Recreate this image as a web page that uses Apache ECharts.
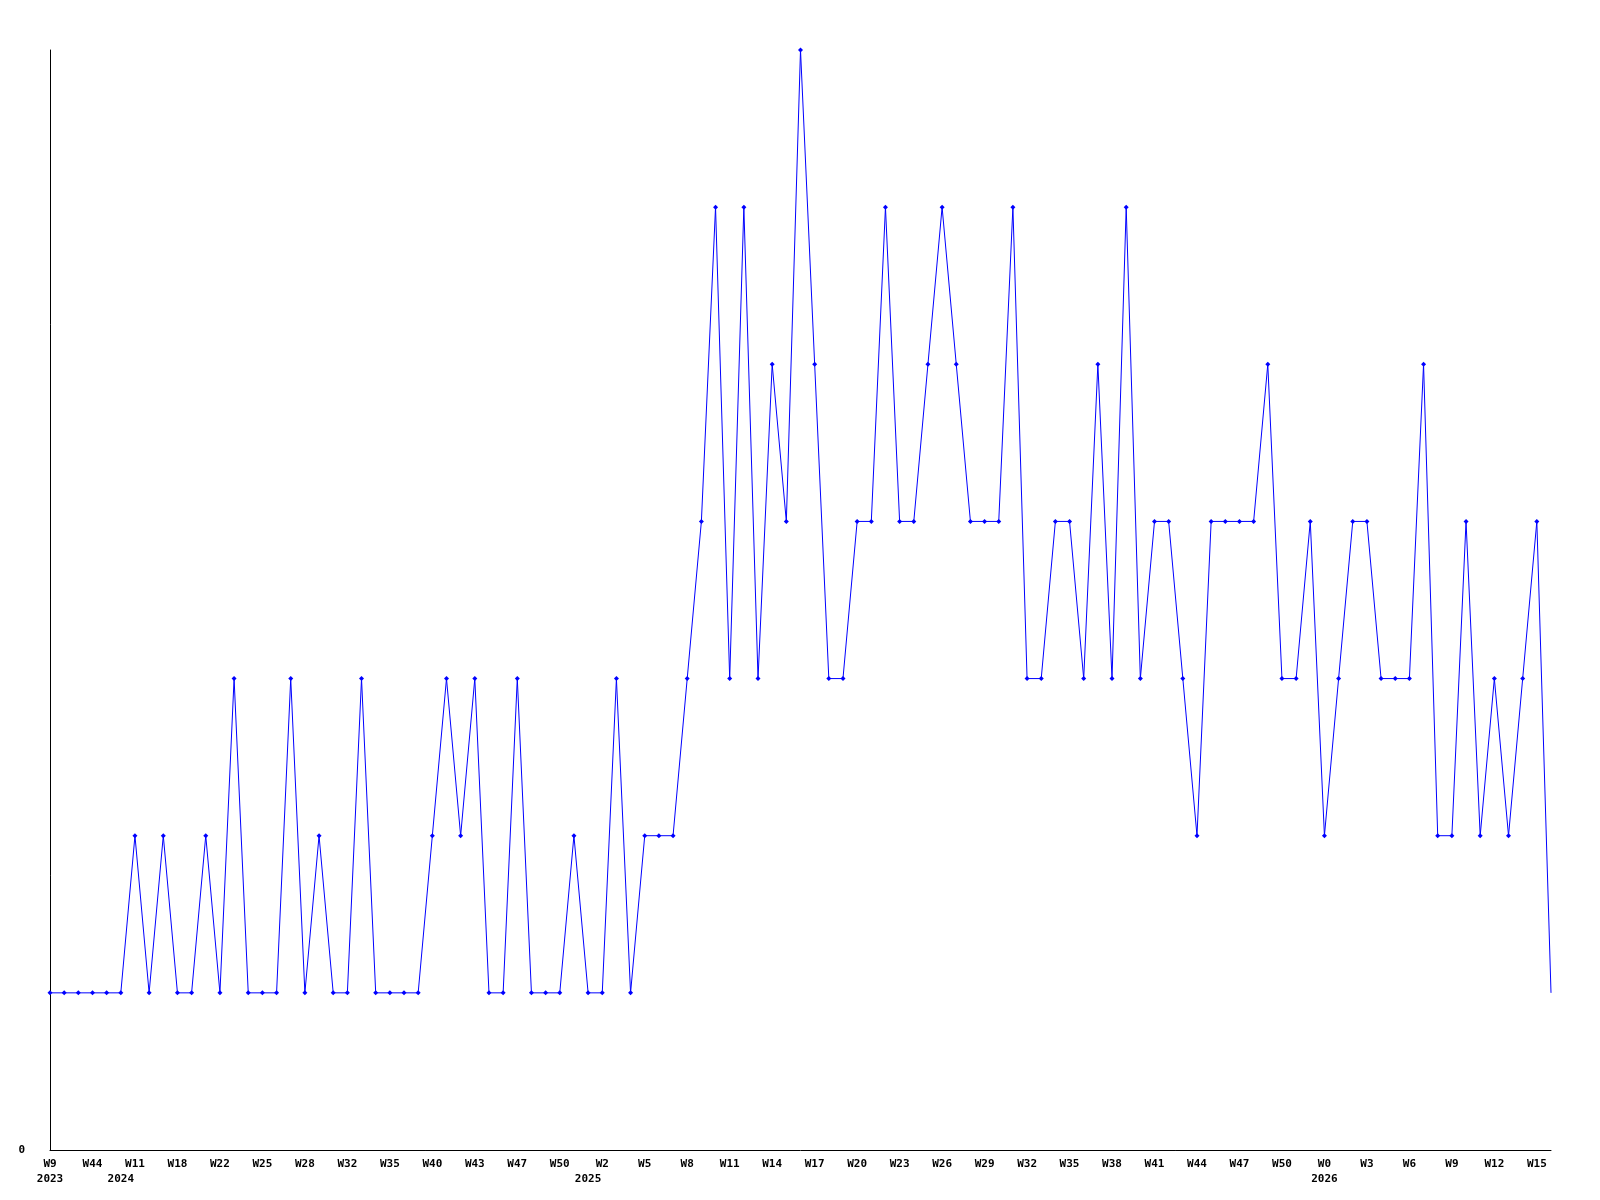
<!DOCTYPE html>
<html>
<head>
<meta charset="utf-8">
<script src="https://cdn.jsdelivr.net/npm/echarts@6/dist/echarts.min.js"></script>
<style>
html,body{margin:0;padding:0;background:#fff;}
#chart{width:1600px;height:1200px;}
</style>
</head>
<body>
<div id="chart"></div>
<script>
// Week labels (one per data point)
const weeks = [
  'W9','W38','W41','W44','W48',
  'W1','W11','W13','W16','W18','W19','W21','W22','W23','W24','W25','W26','W27','W28','W30','W31','W32','W33','W34','W35','W37','W38','W40','W41','W42','W43','W45','W46','W47','W48','W49','W50','W51',
  'W1','W2','W3','W4','W5','W6','W7','W8','W9','W10','W11','W12','W13','W14','W15','W16','W17','W18','W19','W20','W21','W22','W23','W24','W25','W26','W27','W28','W29','W30','W31','W32','W33','W34','W35','W36','W37','W38','W39','W40','W41','W42','W43','W44','W45','W46','W47','W48','W49','W50','W51','W52',
  'W0','W1','W2','W3','W4','W5','W6','W7','W8','W9','W10','W11','W12','W13','W14','W15','W16'
];
// Year of each data point
const years = [
  2023,2023,2023,2023,2023,
  2024,2024,2024,2024,2024,2024,2024,2024,2024,2024,2024,2024,2024,2024,2024,2024,2024,2024,2024,2024,2024,2024,2024,2024,2024,2024,2024,2024,2024,2024,2024,2024,2024,
  2025,2025,2025,2025,2025,2025,2025,2025,2025,2025,2025,2025,2025,2025,2025,2025,2025,2025,2025,2025,2025,2025,2025,2025,2025,2025,2025,2025,2025,2025,2025,2025,2025,2025,2025,2025,2025,2025,2025,2025,2025,2025,2025,2025,2025,2025,2025,2025,2025,2025,2025,2025,
  2026,2026,2026,2026,2026,2026,2026,2026,2026,2026,2026,2026,2026,2026,2026,2026,2026
];
// Values per week
const values = [
  1,1,1,1,1,1,2,1,2,1,1,2,1,3,1,1,1,3,1,2,
  1,1,3,1,1,1,1,2,3,2,3,1,1,3,1,1,1,2,1,1,
  3,1,2,2,2,3,4,6,3,6,3,5,4,7,5,3,3,4,4,6,
  4,4,5,6,5,4,4,4,6,3,3,4,4,3,5,3,6,3,4,4,
  3,2,4,4,4,4,5,3,3,4,2,3,4,4,3,3,3,5,2,2,
  4,2,3,2,3,4,1
];
const yMin = 0, yMax = 7;

const font = '"DejaVu Sans Mono", "Liberation Mono", monospace';
const seriesData = values.map((v, i) => i === values.length - 1 ? {value: v, symbol: 'none'} : v);

const chart = echarts.init(document.getElementById('chart'), null, {renderer: 'canvas'});
chart.setOption({
  animation: false,
  backgroundColor: '#ffffff',
  grid: {left: 50, right: 49, top: 50, bottom: 50, containLabel: false},
  xAxis: [{
    type: 'category',
    data: weeks,
    boundaryGap: false,
    axisLine: {show: true, lineStyle: {color: '#000', width: 1}},
    axisTick: {show: false},
    splitLine: {show: false},
    axisLabel: {
      interval: 2,
      margin: 9,
      color: '#000',
      fontFamily: font,
      fontWeight: 'bold',
      fontSize: 11
    }
  }, {
    type: 'category',
    data: weeks,
    boundaryGap: false,
    position: 'bottom',
    offset: 15,
    axisLine: {show: false},
    axisTick: {show: false},
    splitLine: {show: false},
    axisLabel: {
      interval: 0,
      margin: 9,
      color: '#000',
      fontFamily: font,
      fontWeight: 'bold',
      fontSize: 11,
      formatter: (val, idx) => (idx === 0 || years[idx] !== years[idx - 1]) ? String(years[idx]) : ''
    }
  }],
  yAxis: {
    type: 'value',
    min: yMin,
    max: yMax,
    interval: 1,
    axisLine: {show: true, lineStyle: {color: '#000', width: 1}},
    axisTick: {show: false},
    splitLine: {show: false},
    axisLabel: {
      margin: 25,
      color: '#000',
      fontFamily: font,
      fontWeight: 'bold',
      fontSize: 11,
      formatter: v => v === 0 ? '0' : ''
    }
  },
  series: [{
    type: 'line',
    xAxisIndex: 0,
    data: seriesData,
    symbol: 'diamond',
    symbolSize: 5,
    showAllSymbol: true,
    lineStyle: {color: '#0000ff', width: 1},
    itemStyle: {color: '#0000ff'}
  }]
});
</script>
</body>
</html>
